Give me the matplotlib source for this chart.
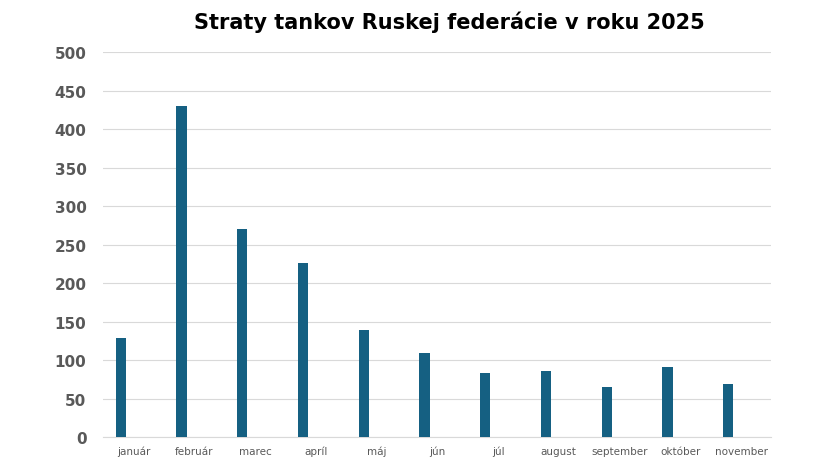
import matplotlib.pyplot as plt
import numpy as np

months = ['január', 'február', 'marec', 'apríl', 'máj', 'jún', 'júl',
          'august', 'september', 'október', 'november']
losses = [129, 431, 271, 226, 139, 110, 84, 86, 66, 91, 70]
yticks = [0, 50, 100, 150, 200, 250, 300, 350, 400, 450, 500]

fig = plt.figure(figsize=(8.25, 4.64), dpi=100)
ax = fig.add_axes([0.125, 0.055, 0.81, 0.83])

x = np.arange(len(months))
ax.bar(x - 0.21, losses, width=0.17, color='#156082', zorder=3)

ax.set_xlim(-0.5, len(months) - 0.5)
ax.set_ylim(0, 500)
ax.set_yticks(yticks)
ax.set_xticks(x)
ax.set_xticklabels(months, fontsize=7.5, color='#595959')
ax.tick_params(axis='y', labelsize=11, colors='#595959', length=0, pad=12)
for lbl in ax.get_yticklabels():
    lbl.set_fontweight('bold')
ax.tick_params(axis='x', length=0, pad=6)
ax.grid(axis='y', color='#d9d9d9', linewidth=0.8, zorder=0)
for side in ['top', 'right', 'left']:
    ax.spines[side].set_visible(False)
ax.spines['bottom'].set_color('#d9d9d9')

fig.suptitle('Straty tankov Ruskej federácie v roku 2025', fontsize=15,
             fontweight='bold', x=0.545, y=0.975)

fig.savefig('out.png')
